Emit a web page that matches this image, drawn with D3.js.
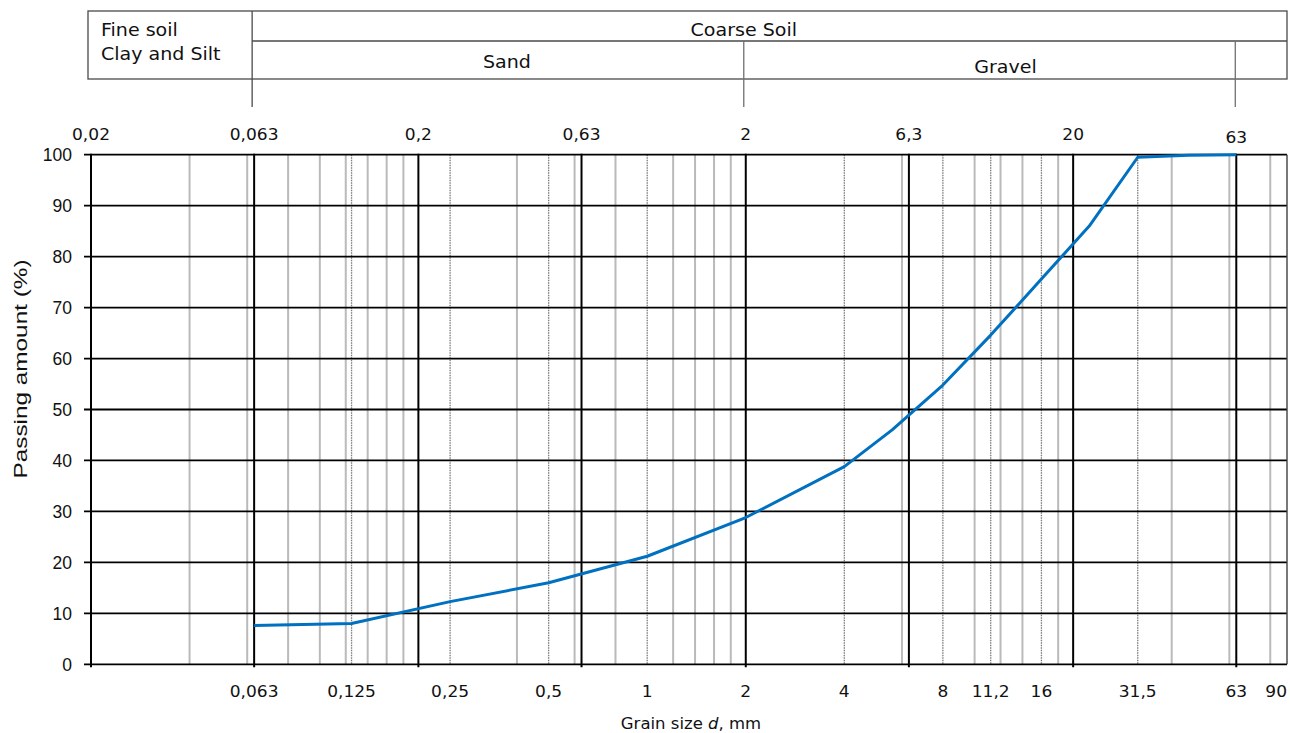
<!DOCTYPE html>
<html>
<head>
<meta charset="utf-8">
<script src="https://cdn.jsdelivr.net/npm/d3@7"></script>
<style>
  body { margin: 0; background: #fff; }
  svg { display: block; }
</style>
</head>
<body>
<svg id="chart" width="1290" height="733"></svg>
<script>
// Sieve analysis: grain size (mm) against passing amount (%)
const sieveSizes = [0.063, 0.125, 0.25, 0.5, 1, 2, 4, 5.6, 8, 11.2, 16, 22.4, 31.5, 45, 63];
const passing    = [7.6,   8.0,   12.3, 16.0, 21.2, 28.8, 38.8, 46.0, 54.8, 64.6, 75.6, 86.0, 99.5, 99.9, 100];

// Fraction boundaries (black grid lines) and their labels along the top
const majorSizes  = [0.02, 0.063, 0.2, 0.63, 2, 6.3, 20, 63];
const majorLabels = ["0,02", "0,063", "0,2", "0,63", "2", "6,3", "20", "63"];

// Sieve sizes labelled along the bottom
const bottomSizes  = [0.063, 0.125, 0.25, 0.5, 1, 2, 4, 8, 11.2, 16, 31.5, 63, 90];
const bottomLabels = ["0,063", "0,125", "0,25", "0,5", "1", "2", "4", "8", "11,2", "16", "31,5", "63", "90"];

// Sieve sizes drawn as dotted grid lines
const sieveGridSizes = [0.125, 0.25, 0.5, 1, 4, 8, 11.2, 16, 31.5];

// Light grey intermediate grid lines
const minorSizes = [0.04, 0.06, 0.08, 0.1, 0.12, 0.14, 0.16, 0.18, 0.4, 0.6, 0.8,
                    1.2, 1.4, 1.6, 1.8, 6, 10, 12, 14, 18, 40, 60, 80];

// Passing amount ticks
const yTicks = [0, 10, 20, 30, 40, 50, 60, 70, 80, 90, 100];

// Soil classification header
const fineCoarseLimit = 0.063;
const sandGravelLimit = 2;
const gravelUpperLimit = 63;

const svg = d3.select("#chart");
const plotL = 91, plotR = 1287, plotT = 154.7, plotB = 664.3;

const x = d3.scaleLog().domain([0.02, 90]).range([plotL, plotR]);
const y = d3.scaleLinear().domain([0, 100]).range([plotB, plotT]);

// Stretch glyphs horizontally to give the wide label lettering
function stretch(sel, k) {
  sel.each(function () {
    const len = this.getComputedTextLength();
    d3.select(this).attr("textLength", len * k).attr("lengthAdjust", "spacingAndGlyphs");
  });
}

const labelFont = "'DejaVu Sans', Verdana, sans-serif";

// ---- Header table ----
const hdr = svg.append("g").attr("stroke", "#4a4a4a").attr("stroke-width", 1.3).attr("fill", "none");
const hx0 = 88, hx1 = plotR;
const hFine = x(fineCoarseLimit) - 2, hSand = x(sandGravelLimit) - 2, hGrav = x(gravelUpperLimit) - 1;
const hTop = 11, hMid = 41, hBot = 79, hExt = 107;
hdr.append("rect").attr("x", hx0).attr("y", hTop).attr("width", hx1 - hx0).attr("height", hBot - hTop);
hdr.append("line").attr("x1", hFine).attr("x2", hFine).attr("y1", hTop).attr("y2", hExt);
hdr.append("line").attr("x1", hFine).attr("x2", hx1).attr("y1", hMid).attr("y2", hMid);
hdr.append("line").attr("x1", hSand).attr("x2", hSand).attr("y1", hMid).attr("y2", hExt).attr("stroke", "#707070");
hdr.append("line").attr("x1", hGrav).attr("x2", hGrav).attr("y1", hMid).attr("y2", hExt).attr("stroke", "#707070");

const hText = svg.append("g").attr("font-family", labelFont).attr("font-size", 17).attr("fill", "#111");
hText.append("text").attr("x", 101).attr("y", 36).text("Fine soil");
hText.append("text").attr("x", 101).attr("y", 60).text("Clay and Silt");
hText.append("text").attr("x", hSand).attr("y", 36).attr("text-anchor", "middle").text("Coarse Soil");
hText.append("text").attr("x", (hFine + hSand) / 2 + 9).attr("y", 68).attr("text-anchor", "middle").text("Sand");
hText.append("text").attr("x", (hSand + hGrav) / 2 + 16).attr("y", 73).attr("text-anchor", "middle").text("Gravel");
stretch(hText.selectAll("text"), 1.12);

// ---- Grid ----
const grid = svg.append("g");
grid.selectAll("line.minor").data(minorSizes).join("line")
  .attr("class", "minor")
  .attr("x1", d => x(d)).attr("x2", d => x(d))
  .attr("y1", plotT).attr("y2", plotB)
  .attr("stroke", "#bababa").attr("stroke-width", 2);

grid.selectAll("line.sieve").data(sieveGridSizes).join("line")
  .attr("class", "sieve")
  .attr("x1", d => x(d)).attr("x2", d => x(d))
  .attr("y1", plotT).attr("y2", plotB)
  .attr("stroke", "#7a7a7a").attr("stroke-width", 1.3)
  .attr("stroke-dasharray", "1.5,1");

// horizontal lines with short ticks on the left
grid.selectAll("line.h").data(yTicks).join("line")
  .attr("class", "h")
  .attr("x1", plotL - 7).attr("x2", plotR)
  .attr("y1", d => y(d)).attr("y2", d => y(d))
  .attr("stroke", "#000").attr("stroke-width", 1.8);

// right border
grid.append("line")
  .attr("x1", x(90)).attr("x2", x(90)).attr("y1", plotT).attr("y2", plotB)
  .attr("stroke", "#404040").attr("stroke-width", 1.4);

grid.selectAll("line.major").data(majorSizes).join("line")
  .attr("class", "major")
  .attr("x1", d => x(d)).attr("x2", d => x(d))
  .attr("y1", plotT - 1).attr("y2", plotB + 3)
  .attr("stroke", "#000").attr("stroke-width", 2);

// ---- Grading curve ----
const pts = sieveSizes.map((d, i) => [d, passing[i]]);
svg.append("path")
  .datum(pts)
  .attr("fill", "none")
  .attr("stroke", "#0070c0")
  .attr("stroke-width", 3)
  .attr("stroke-linejoin", "round")
  .attr("d", d3.line().x(d => x(d[0])).y(d => y(d[1])));

// ---- Axis labels ----
const topLab = svg.append("g").attr("font-family", labelFont).attr("font-size", 15.5).attr("fill", "#111")
  .selectAll("text").data(majorSizes).join("text")
  .attr("x", d => x(d)).attr("y", (d, i) => i === majorSizes.length - 1 ? 142.5 : 140)
  .attr("text-anchor", "middle")
  .text((d, i) => majorLabels[i]);
stretch(topLab, 1.1);

const botLab = svg.append("g").attr("font-family", labelFont).attr("font-size", 15.5).attr("fill", "#111")
  .selectAll("text").data(bottomSizes).join("text")
  .attr("x", d => x(d)).attr("y", 697)
  .attr("text-anchor", (d, i) => i === bottomSizes.length - 1 ? "end" : "middle")
  .text((d, i) => bottomLabels[i]);
stretch(botLab, 1.1);

const xTitle = svg.append("text")
  .attr("x", (plotL + plotR) / 2 + 2).attr("y", 729)
  .attr("text-anchor", "middle")
  .attr("font-family", labelFont).attr("font-size", 15).attr("fill", "#111");
xTitle.append("tspan").text("Grain size ");
xTitle.append("tspan").attr("font-style", "italic").text("d");
xTitle.append("tspan").text(", mm");
stretch(xTitle, 1.1);

svg.append("g").attr("font-family", "'Liberation Sans', Arial, sans-serif").attr("font-size", 17.5).attr("fill", "#111")
  .selectAll("text").data(yTicks).join("text")
  .attr("x", 72).attr("y", d => y(d)).attr("dy", "0.36em")
  .attr("text-anchor", "end")
  .text(d => d);

const yTitle = svg.append("text")
  .attr("transform", "translate(27,369) rotate(-90)")
  .attr("text-anchor", "middle")
  .attr("font-family", "'Liberation Sans', Arial, sans-serif").attr("font-size", 19).attr("fill", "#111")
  .text("Passing amount (%)");
stretch(yTitle, 1.28);
</script>
</body>
</html>
